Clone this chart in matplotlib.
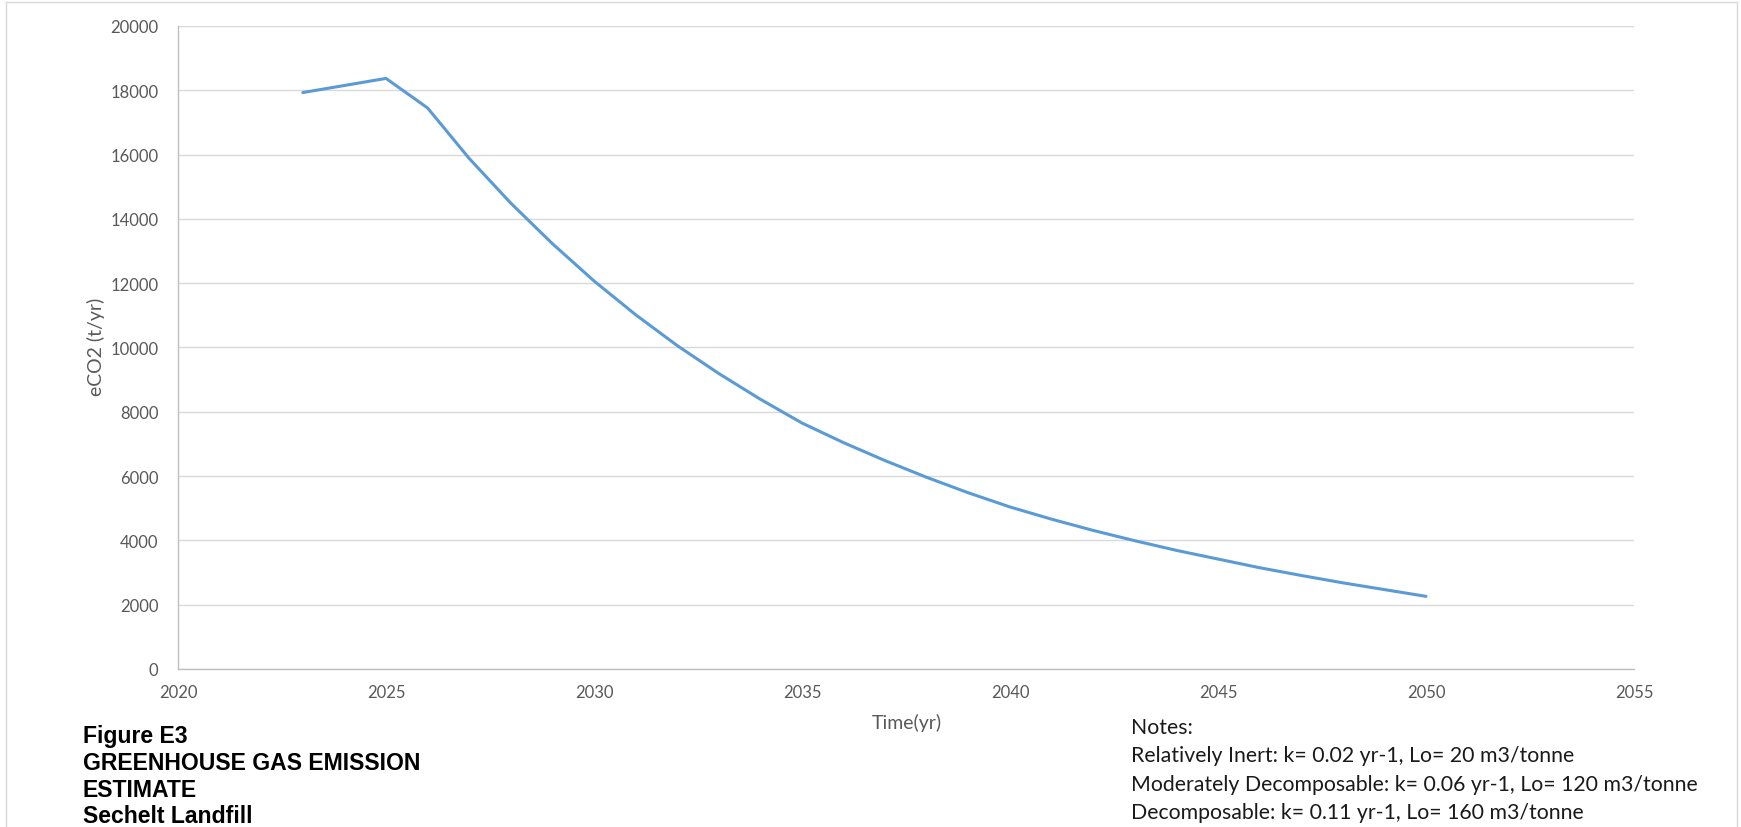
import matplotlib.pyplot as plt
from matplotlib.lines import Line2D

# Data
years = list(range(2023, 2051))
eco2 = [17930, 18150, 18370, 17450, 15880, 14490, 13230, 12070,
        11020, 10060, 9190, 8390, 7650, 7040, 6480, 5960, 5480,
        5040, 4660, 4310, 3990, 3690, 3420, 3150, 2910, 2680, 2470, 2260]

x_ticks = [2020, 2025, 2030, 2035, 2040, 2045, 2050, 2055]
y_ticks = [0, 2000, 4000, 6000, 8000, 10000, 12000, 14000, 16000, 18000, 20000]

caption = ["Figure E3", "GREENHOUSE GAS EMISSION", "ESTIMATE", "Sechelt Landfill"]
notes = ["Notes:",
         "Relatively Inert: k= 0.02 yr-1, Lo= 20 m3/tonne",
         "Moderately Decomposable: k= 0.06 yr-1, Lo= 120 m3/tonne",
         "Decomposable: k= 0.11 yr-1, Lo= 160 m3/tonne"]

W, H = 1741, 828
fig = plt.figure(figsize=(W / 100, H / 100), dpi=100)
ax = fig.add_axes([178 / W, 1 - 670 / H, (1634 - 178) / W, (670 - 27) / H])

ax.plot(years, eco2, color='#5b9bd5', lw=2.2, solid_capstyle='round')

ax.set_xlim(2020, 2055)
ax.set_ylim(0, 20000)
ax.set_xticks(x_ticks)
ax.set_yticks(y_ticks)
ax.tick_params(length=0, labelsize=12, labelcolor='#595959')
ax.tick_params(axis='y', pad=14)
ax.tick_params(axis='x', pad=11)
for lab in ax.get_xticklabels() + ax.get_yticklabels():
    lab.set_family('Lato')

ax.grid(axis='y', color='#d9d9d9', lw=1)
ax.set_axisbelow(True)
for s in ['top', 'right']:
    ax.spines[s].set_visible(False)
for s in ['left', 'bottom']:
    ax.spines[s].set_color('#bfbfbf')
    ax.spines[s].set_linewidth(1)

# axis titles
fig.text(907 / W, 1 - 723 / H, "Time(yr)", ha='center', va='center',
         fontsize=14, color='#595959', family='Lato')
fig.text(96 / W, 1 - 347 / H, "eCO2 (t/yr)", ha='center', va='center',
         rotation=90, fontsize=14, color='#595959', family='Lato')

# figure caption
for i, t in enumerate(caption):
    fig.text(83 / W, 1 - (737 + i * 26.6) / H, t, ha='left', va='center',
             fontsize=16.6, fontweight='bold', color='black', family='Liberation Sans')

# notes
for i, t in enumerate(notes):
    fig.text(1131 / W, 1 - (728 + i * 28.3) / H, t, ha='left', va='center',
             fontsize=15.3, color='#1a1a1a', family='Lato')

# chart border
bc = '#d9d9d9'
fig.add_artist(Line2D([6 / W, 6 / W], [0, 1 - 3 / H], color=bc, lw=1))
fig.add_artist(Line2D([6 / W, 1737 / W], [1 - 3 / H, 1 - 3 / H], color=bc, lw=1))
fig.add_artist(Line2D([1737 / W, 1737 / W], [0, 1 - 3 / H], color=bc, lw=1))

fig.savefig('out.png', dpi=100)
